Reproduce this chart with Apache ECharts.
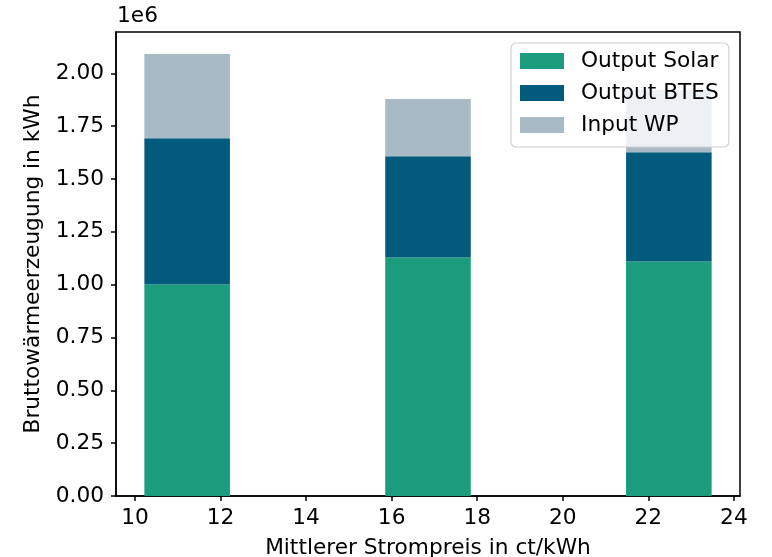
<!DOCTYPE html>
<html>
<head>
<meta charset="utf-8">
<script src="https://cdn.jsdelivr.net/npm/echarts@6/dist/echarts.min.js"></script>
<style>
  html, body { margin: 0; padding: 0; background: #fff; }
  #chart { width: 772px; height: 557px; }
</style>
</head>
<body>
<div id="chart"></div>
<script>
// Mean electricity price (bar centres), ct/kWh
const prices = [11.22, 16.85, 22.48];
// Gross heat generation per source, in 1e6 kWh
const outputSolar = [1.001, 1.129, 1.110];
const outputBTES = [0.692, 0.479, 0.517];
const inputWP = [0.398, 0.270, 0.294];
// Axis tick labels
const xTicks = [10, 12, 14, 16, 18, 20, 22, 24];
const yTicks = [0, 0.25, 0.5, 0.75, 1.0, 1.25, 1.5, 1.75, 2.0];

const seriesNames = ['Output Solar', 'Output BTES', 'Input WP'];
const seriesColors = ['#1a9c7d', '#025b7d', '#a7bac6'];
const barWidth = 2; // in ct/kWh

// stacked segments: [centre, base, top]
const layers = [outputSolar, outputBTES, inputWP];
const base = prices.map(() => 0);
const stacked = layers.map(vals => vals.map((v, i) => {
  const seg = [prices[i], base[i], base[i] + v];
  base[i] += v;
  return seg;
}));

// axis ranges with 5% padding around the data
const totalMax = Math.max(...base);
const xLo = Math.min(...prices) - barWidth / 2;
const xHi = Math.max(...prices) + barWidth / 2;
const xPad = (xHi - xLo) * 0.05;
const yMax = totalMax * 1.05;

const font = 'DejaVu Sans';
const fs = 21.7;
const chart = echarts.init(document.getElementById('chart'), null, { renderer: 'canvas' });

function renderBar(params, api) {
  const c = api.value(0), b = api.value(1), t = api.value(2);
  const p0 = api.coord([c - barWidth / 2, t]);
  const p1 = api.coord([c + barWidth / 2, b]);
  return {
    type: 'rect',
    shape: { x: p0[0], y: p0[1], width: p1[0] - p0[0], height: p1[1] - p0[1] },
    style: api.style()
  };
}

chart.setOption({
  animation: false,
  backgroundColor: '#fff',
  textStyle: { fontFamily: font, color: '#000' },
  grid: {
    left: 116, right: 32, top: 32, bottom: 61,
    outerBoundsMode: 'none', containLabel: false,
    show: true, borderColor: '#000', borderWidth: 1.5, backgroundColor: 'transparent'
  },
  graphic: [{
    type: 'text', left: 117, top: 5,
    style: { text: '1e6', font: fs + 'px "DejaVu Sans"', fill: '#000' }
  }],
  legend: {
    orient: 'vertical',
    left: 511, top: 43,
    data: seriesNames,
    icon: 'rect',
    itemWidth: 44, itemHeight: 16, itemGap: 8,
    padding: [6, 10, 10, 9],
    backgroundColor: 'rgba(255,255,255,0.8)',
    borderColor: '#d0d0d0', borderWidth: 1.2, borderRadius: 5,
    textStyle: { fontFamily: font, fontSize: fs, color: '#000', lineHeight: 24, padding: [0, 0, 0, 12] }
  },
  xAxis: {
    type: 'value',
    min: xLo - xPad, max: xHi + xPad,
    name: 'Mittlerer Strompreis in ct/kWh',
    nameLocation: 'middle', nameGap: 41,
    nameTextStyle: { fontFamily: font, fontSize: fs, color: '#000' },
    axisLine: { show: true, lineStyle: { color: '#000', width: 1.5 } },
    axisTick: { show: true, length: 5, customValues: xTicks, lineStyle: { color: '#000', width: 1.5 } },
    axisLabel: { customValues: xTicks, margin: 11, fontFamily: font, fontSize: fs, color: '#000' },
    splitLine: { show: false }
  },
  yAxis: {
    type: 'value',
    min: 0, max: yMax,
    name: 'Bruttowärmeerzeugung in kWh',
    nameLocation: 'middle', nameGap: 70, nameRotate: 90,
    nameTextStyle: { fontFamily: font, fontSize: fs, color: '#000' },
    axisLine: { show: true, lineStyle: { color: '#000', width: 1.5 } },
    axisTick: { show: true, length: 5, customValues: yTicks, lineStyle: { color: '#000', width: 1.5 } },
    axisLabel: {
      customValues: yTicks, margin: 12, fontFamily: font, fontSize: fs, color: '#000',
      formatter: v => v.toFixed(2)
    },
    splitLine: { show: false }
  },
  series: stacked.map((data, k) => ({
    type: 'custom',
    name: seriesNames[k],
    renderItem: renderBar,
    encode: { x: 0, y: [1, 2] },
    itemStyle: { color: seriesColors[k] },
    data: data
  }))
});
</script>
</body>
</html>
